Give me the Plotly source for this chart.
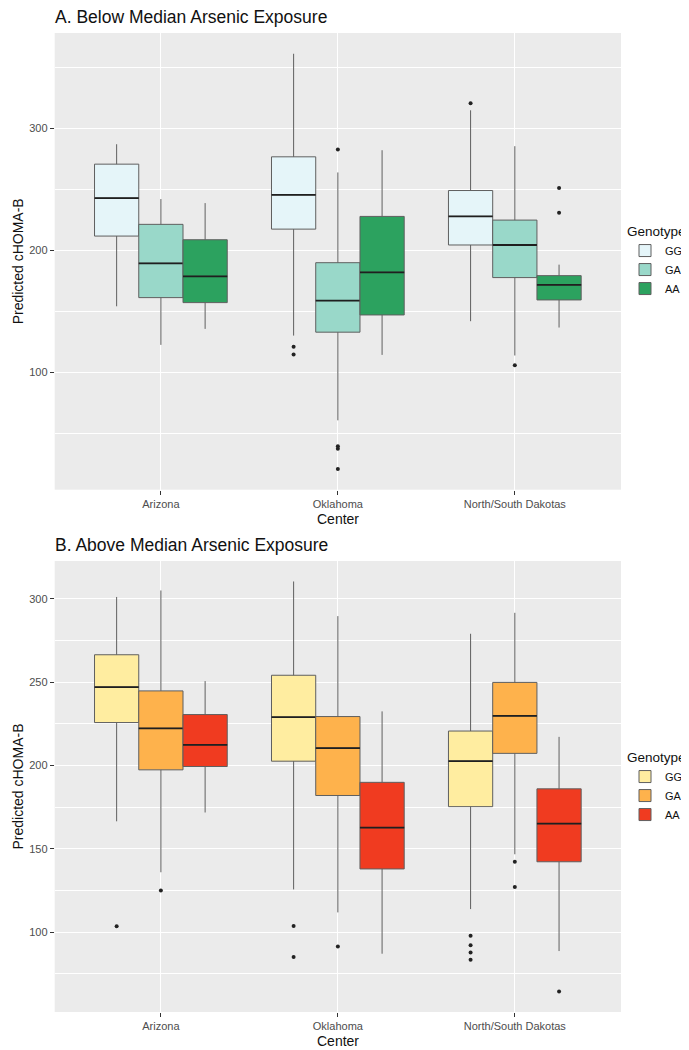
import plotly.graph_objects as go

# ---------------- data ----------------
centers = ["Arizona", "Oklahoma", "North/South Dakotas"]
genotypes = ["GG", "GA", "AA"]

# Panel A: Below median arsenic exposure
a_gg_upper = [286.9, 361.0, 314.7]
a_gg_q3 = [270.6, 276.6, 249.0]
a_gg_median = [242.8, 245.5, 227.8]
a_gg_q1 = [211.7, 217.4, 204.4]
a_gg_lower = [154.2, 130.2, 142.0]
a_gg_out = [[], [121.0, 114.7], [320.4]]

a_ga_upper = [242.0, 263.8, 285.3]
a_ga_q3 = [221.3, 189.9, 224.8]
a_ga_median = [189.4, 158.9, 204.4]
a_ga_q1 = [161.3, 133.0, 177.7]
a_ga_lower = [122.6, 60.8, 113.9]
a_ga_out = [[], [282.6, 39.5, 37.6, 21.0], [106.0]]

a_aa_upper = [238.7, 282.0, 188.3]
a_aa_q3 = [208.7, 227.8, 179.3]
a_aa_median = [178.7, 182.0, 171.7]
a_aa_q1 = [157.2, 147.1, 159.4]
a_aa_lower = [135.7, 114.4, 136.8]
a_aa_out = [[], [], [251.0, 230.8]]

# Panel B: Above median arsenic exposure
b_gg_upper = [301.2, 310.5, 279.1]
b_gg_q3 = [266.5, 254.2, 220.7]
b_gg_median = [247.1, 229.0, 202.6]
b_gg_q1 = [225.8, 202.6, 175.3]
b_gg_lower = [166.5, 125.6, 113.8]
b_gg_out = [[103.5], [103.7, 85.0], [97.8, 92.1, 87.8, 83.4]]

b_ga_upper = [305.1, 289.7, 291.7]
b_ga_q3 = [244.8, 229.4, 249.9]
b_ga_median = [222.3, 210.5, 229.8]
b_ga_q1 = [197.4, 182.0, 207.3]
b_ga_lower = [135.9, 111.8, 146.7]
b_ga_out = [[125.0], [91.3], [142.2, 127.0]]

b_aa_upper = [250.7, 232.5, 217.2]
b_aa_q3 = [230.6, 189.9, 186.0]
b_aa_median = [212.4, 162.7, 165.1]
b_aa_q1 = [199.4, 137.9, 142.2]
b_aa_lower = [171.8, 87.0, 88.6]
b_aa_out = [[], [], [64.3]]

a_ticks = [100, 200, 300]
b_ticks = [100, 150, 200, 250, 300]

# ---------------- styling ----------------
W, H = 689, 1050
FONT = "Liberation Sans, Arial, Helvetica, sans-serif"
colors_a = ["#e5f5f9", "#99d8c9", "#2ca25f"]
colors_b = ["#ffeda0", "#feb24c", "#f03b20"]
offsets = [-0.25, 0.0, 0.25]
BOXW = 0.25
PANEL_BG = "#EBEBEB"
BOX_LINE = "#5f5f5f"
MED_LINE = "#1f1f1f"

panel_a = [
    (a_gg_q1, a_gg_median, a_gg_q3, a_gg_lower, a_gg_upper, a_gg_out),
    (a_ga_q1, a_ga_median, a_ga_q3, a_ga_lower, a_ga_upper, a_ga_out),
    (a_aa_q1, a_aa_median, a_aa_q3, a_aa_lower, a_aa_upper, a_aa_out),
]
panel_b = [
    (b_gg_q1, b_gg_median, b_gg_q3, b_gg_lower, b_gg_upper, b_gg_out),
    (b_ga_q1, b_ga_median, b_ga_q3, b_ga_lower, b_ga_upper, b_ga_out),
    (b_aa_q1, b_aa_median, b_aa_q3, b_aa_lower, b_aa_upper, b_aa_out),
]

fig = go.Figure()


def add_panel(panel, colors, xa, ya, legend_name):
    for gi, (q1, med, q3, lo, up, outs) in enumerate(panel):
        xs = [ci + 1 + offsets[gi] for ci in range(len(centers))]
        fig.add_trace(go.Box(
            x=xs, q1=q1, median=med, q3=q3, lowerfence=lo, upperfence=up,
            name=genotypes[gi], width=BOXW, whiskerwidth=0,
            fillcolor=colors[gi], line=dict(color=BOX_LINE, width=1),
            boxpoints=False, xaxis=xa, yaxis=ya, legend=legend_name,
            hoverinfo="skip",
        ))
        # thicker, darker median line (ggplot style)
        fig.add_trace(go.Box(
            x=xs, q1=med, median=med, q3=med, lowerfence=med, upperfence=med,
            width=BOXW, whiskerwidth=0, fillcolor="rgba(0,0,0,0)",
            line=dict(color=MED_LINE, width=1.8), boxpoints=False,
            xaxis=xa, yaxis=ya, showlegend=False, hoverinfo="skip",
        ))
        ox, oy = [], []
        for ci, vals in enumerate(outs):
            for v in vals:
                ox.append(ci + 1 + offsets[gi])
                oy.append(v)
        fig.add_trace(go.Scatter(
            x=ox, y=oy, mode="markers",
            marker=dict(color="#222222", size=4),
            showlegend=False, xaxis=xa, yaxis=ya, hoverinfo="skip",
        ))


add_panel(panel_a, colors_a, "x", "y", "legend")
add_panel(panel_b, colors_b, "x2", "y2", "legend2")

px_x = lambda p: p / W
px_y = lambda p: 1 - p / H

xdom = [px_x(46.7), px_x(613)]
ydom_a = [px_y(481.7), px_y(25)]
ydom_b = [px_y(1004), px_y(553)]

tickfont = dict(family=FONT, size=11, color="#4d4d4d")
titlefont = dict(family=FONT, size=14, color="#111111")

common_x = dict(
    tickvals=[1, 2, 3], ticktext=centers, range=[0.4, 3.6],
    showgrid=True, gridcolor="white", gridwidth=1.1,
    ticks="outside", ticklen=4, tickcolor="#333333", tickwidth=1,
    tickfont=tickfont, zeroline=False, showline=False,
)
common_y = dict(
    showgrid=True, gridcolor="white", gridwidth=1.1,
    ticks="outside", ticklen=4, tickcolor="#333333", tickwidth=1,
    tickfont=tickfont, zeroline=False, showline=False,
    title=dict(text="Predicted cHOMA-B", font=titlefont, standoff=2),
)

legend_common = dict(
    x=px_x(617), xanchor="left", yanchor="middle",
    title=dict(text="Genotype", font=dict(family=FONT, size=13.5, color="#111111")),
    font=dict(family=FONT, size=11, color="#111111"),
    bgcolor="rgba(0,0,0,0)", tracegroupgap=0, itemwidth=30,
)

fig.update_layout(
    width=W, height=H,
    margin=dict(l=0, r=0, t=0, b=0),
    paper_bgcolor="white", plot_bgcolor=PANEL_BG,
    font=dict(family=FONT),
    boxmode="overlay",
    xaxis=dict(domain=xdom, anchor="y", **common_x),
    yaxis=dict(domain=ydom_a, anchor="x", range=[4.0, 378.0],
               tickvals=a_ticks,
               minor=dict(dtick=50, tick0=0, showgrid=True,
                          gridcolor="white", gridwidth=0.5, ticks=""),
               **common_y),
    xaxis2=dict(domain=xdom, anchor="y2", **common_x),
    yaxis2=dict(domain=ydom_b, anchor="x2", range=[52.0, 322.8],
                tickvals=b_ticks,
                minor=dict(dtick=25, tick0=0, showgrid=True,
                           gridcolor="white", gridwidth=0.5, ticks=""),
                **common_y),
    legend=dict(y=px_y(253), **legend_common),
    legend2=dict(y=px_y(779), **legend_common),
    annotations=[
        dict(text="A. Below Median Arsenic Exposure", xref="paper", yref="paper",
             x=px_x(45), y=px_y(9), xanchor="left", yanchor="middle",
             showarrow=False, font=dict(family=FONT, size=17.5, color="#111111")),
        dict(text="B. Above Median Arsenic Exposure", xref="paper", yref="paper",
             x=px_x(45), y=px_y(537), xanchor="left", yanchor="middle",
             showarrow=False, font=dict(family=FONT, size=17.5, color="#111111")),
        dict(text="Center", xref="paper", yref="paper",
             x=(xdom[0] + xdom[1]) / 2, y=px_y(511), xanchor="center", yanchor="middle",
             showarrow=False, font=titlefont),
        dict(text="Center", xref="paper", yref="paper",
             x=(xdom[0] + xdom[1]) / 2, y=px_y(1033), xanchor="center", yanchor="middle",
             showarrow=False, font=titlefont),
    ],
)

fig.write_html("out.html")
